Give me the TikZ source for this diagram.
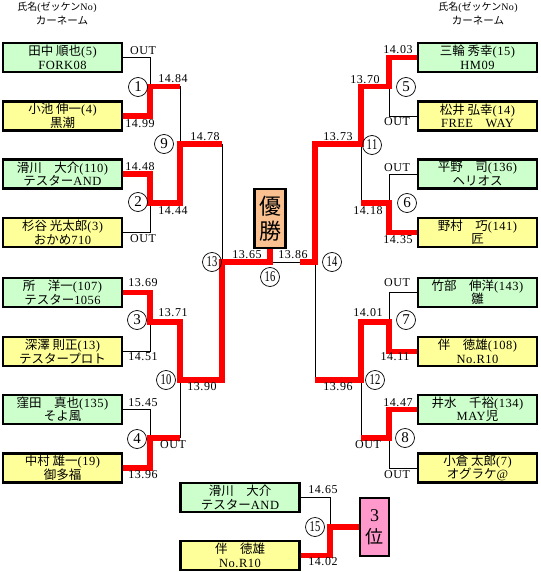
\documentclass[tikz,border=0pt]{standalone}
\usepackage{fontspec}
\usepackage{graphicx}
\setmainfont{Liberation Serif}[LetterSpace=4]
\newfontfamily\numf{Liberation Serif}[LetterSpace=5]
\newfontfamily\jpf{Noto Sans CJK JP}
\newcommand\jj[1]{{\jpf #1}}
\newcommand\tw[1]{\scalebox{0.7}[1]{#1}}
\pgfdeclarelayer{bg}
\pgfsetlayers{bg,main}
\definecolor{pgreen}{RGB}{204,255,204}
\definecolor{pyellow}{RGB}{255,255,153}
\definecolor{ppeach}{RGB}{250,192,144}
\definecolor{ppink}{RGB}{255,153,204}
\definecolor{pred}{RGB}{255,0,0}
\begin{document}
\begin{tikzpicture}[x=1pt,y=-1pt,
 pbox/.style={draw,line width=2.2pt,minimum width=119pt,minimum height=29pt,inner sep=0pt,align=center,font=\fontsize{12.5}{13.5}\selectfont},
 gbox/.style={pbox,fill=pgreen},
 ybox/.style={pbox,fill=pyellow},
 lbl/.style={inner sep=0pt,font=\numf\fontsize{12}{12}\selectfont},
 hdr/.style={inner sep=0pt,align=center,font=\fontsize{10}{12}\selectfont},
 num/.style={circle,draw,line width=0.7pt,minimum size=19pt,inner sep=0pt,font=\fontsize{15}{15}\selectfont},
 win/.style={draw=pred,line width=5.5pt},
 los/.style={draw=black,line width=0.9pt},
]
\useasboundingbox (0,0) rectangle (540,572);
% headers
\node[hdr] (hl1) at (57,7) {\jj{氏名}(\jj{ゼッケン}No)};
\node[hdr,font=\fontsize{10.5}{12}\selectfont] (hl2) at (62,21) {\jj{カーネーム}};
\node[hdr] (hr1) at (478,7) {\jj{氏名}(\jj{ゼッケン}No)};
\node[hdr,font=\fontsize{10.5}{12}\selectfont] (hr2) at (478,21) {\jj{カーネーム}};
% left boxes
\node[gbox] (L1) at (62.5,57.5) {\jj{田中 順也}(5)\\FORK08};
\node[ybox] (L2) at (62.5,116) {\jj{小池 伸一}(4)\\\jj{黒潮}};
\node[gbox] (L3) at (62.5,174) {\jj{滑川　大介}(110)\\\jj{テスター}AND};
\node[ybox] (L4) at (62.5,232.5) {\jj{杉谷 光太郎}(3)\\\jj{おかめ}710};
\node[gbox] (L5) at (62.5,292.5) {\jj{所　洋一}(107)\\\jj{テスター}1056};
\node[ybox] (L6) at (62.5,351.5) {\jj{深澤 則正}(13)\\\jj{テスタープロト}};
\node[gbox] (L7) at (62.5,409.5) {\jj{窪田　真也}(135)\\\jj{そよ風}};
\node[ybox] (L8) at (62.5,468) {\jj{中村 雄一}(19)\\\jj{御多福}};
% right boxes
\node[gbox] (R1) at (477.5,57.5) {\jj{三輪 秀幸}(15)\\HM09};
\node[ybox] (R2) at (477.5,116) {\jj{松井 弘幸}(14)\\FREE\jj{　}WAY};
\node[gbox] (R3) at (477.5,174) {\jj{平野　司}(136)\\\jj{ヘリオス}};
\node[ybox] (R4) at (477.5,232.5) {\jj{野村　巧}(141)\\\jj{匠}};
\node[gbox] (R5) at (477.5,292.5) {\jj{竹部　伸洋}(143)\\\jj{雛}};
\node[ybox] (R6) at (477.5,351.5) {\jj{伴　徳雄}(108)\\No.R10};
\node[gbox] (R7) at (477.5,409.5) {\jj{井水　千裕}(134)\\MAY\jj{児}};
\node[ybox] (R8) at (477.5,468) {\jj{小倉 太郎}(7)\\\jj{オグラケ}@};
% bottom boxes
\node[gbox] (B1) at (240,497.5) {\jj{滑川　大介}\\\jj{テスター}AND};
\node[ybox] (B2) at (240,555.5) {\jj{伴　徳雄}\\No.R10};
% result boxes
\node[draw,line width=2.2pt,fill=ppeach,minimum width=31pt,minimum height=59pt,inner sep=0pt,align=center,font=\jpf\fontsize{22}{25}\selectfont] (W) at (270,218.5) {優\\勝};
\node[draw,line width=2.2pt,fill=ppink,minimum width=29pt,minimum height=58pt,inner sep=0pt,align=center,font=\fontsize{18}{22}\selectfont] (T) at (374.5,527) {3\\\jj{位}};
% junction coordinates
\coordinate (m1) at (150,86.5);
\coordinate (m2) at (150,203);
\coordinate (m3) at (150,322);
\coordinate (m4) at (150,438);
\coordinate (m9) at (180,144);
\coordinate (m10) at (180,380);
\coordinate (m13) at (222,262);
\coordinate (m16) at (270,262);
\coordinate (m5) at (389,86.5);
\coordinate (m6) at (389,203);
\coordinate (m7) at (389,322);
\coordinate (m8) at (389,438);
\coordinate (m11) at (361,144);
\coordinate (m12) at (361,380);
\coordinate (m14) at (315,262);
\coordinate (m14s) at (300,262);
\coordinate (m15) at (330,527);
\begin{pgfonlayer}{bg}
% black (losing) lines
\draw[los] (L1.east) -| (m1);
\draw[los] (m1 -| m9) -- (m9);
\draw[los] (L4.east) -| (m2);
\draw[los] (m9 -| m13) -- (m13);
\draw[los] (L6.east) -| (m3);
\draw[los] (L7.east) -| (m4);
\draw[los] (m10) -- (m4 -| m10);
\draw[los] (R2.west) -| (m5);
\draw[los] (m11) -- (m6 -| m11);
\draw[los] (R3.west) -| (m6);
\draw[los] (m14) -- (m16);
\draw[los] (m14) -- (m12 -| m14);
\draw[los] (R5.west) -| (m7);
\draw[los] (m12) -- (m8 -| m12);
\draw[los] (R8.west) -| (m8);
\draw[los] (B1.east) -| (m15);
% red (winning) lines
\draw[win] (L2.east) -| (m1) -- (m1 -| m9);
\draw[win] (L3.east) -| (m2) -- (m2 -| m9) -- (m9) -- (m9 -| m13);
\draw[win] (L5.east) -| (m3) -- (m3 -| m10) -- (m10) -- (m10 -| m13) -- (m13) -- (m16) -- (W.south);
\draw[win] (L8.east) -| (m4) -- (m4 -| m10);
\draw[win] (R1.west) -| (m5) -- (m5 -| m11) -- (m11) -- (m11 -| m14) -- (m14) -- (m14s);
\draw[win] (R4.west) -| (m6) -- (m6 -| m11);
\draw[win] (R6.west) -| (m7) -- (m7 -| m12) -- (m12) -- (m12 -| m14);
\draw[win] (R7.west) -| (m8) -- (m8 -| m12);
\draw[win] (B2.east) -| (m15) -- (T.west);
\end{pgfonlayer}
% match numbers
\node[num] (n1) at (138,87) {1};
\node[num] (n2) at (138,202) {2};
\node[num] (n3) at (137,320) {3};
\node[num] (n4) at (137,439) {4};
\node[num] (n5) at (406,87) {5};
\node[num] (n6) at (407,203) {6};
\node[num] (n7) at (406,320) {7};
\node[num] (n8) at (405,438) {8};
\node[num] (n9) at (164,144) {9};
\node[num] (n10) at (166,380) {\tw{10}};
\node[num] (n11) at (372,145) {\tw{11}};
\node[num] (n12) at (375,380) {\tw{12}};
\node[num] (n13) at (212,262) {\tw{13}};
\node[num] (n14) at (332,262) {\tw{14}};
\node[num] (n15) at (315,527) {\tw{15}};
\node[num] (n16) at (270,277) {\tw{16}};
% time labels left
\node[lbl] (t1) at (143,51) {OUT};
\node[lbl] (t2) at (140,124) {14.99};
\node[lbl] (t3) at (173,79) {14.84};
\node[lbl] (t4) at (140,167) {14.48};
\node[lbl] (t5) at (173,211) {14.44};
\node[lbl] (t6) at (143,239) {OUT};
\node[lbl] (t7) at (205,137) {14.78};
\node[lbl] (t8) at (143,283) {13.69};
\node[lbl] (t9) at (173,313) {13.71};
\node[lbl] (t10) at (143,357) {14.51};
\node[lbl] (t11) at (202,387) {13.90};
\node[lbl] (t12) at (143,403) {15.45};
\node[lbl] (t13) at (173,445) {OUT};
\node[lbl] (t14) at (143,475) {13.96};
% center
\node[lbl] (t15) at (247,255) {13.65};
\node[lbl] (t16) at (293,255) {13.86};
% time labels right
\node[lbl] (u1) at (398,50) {14.03};
\node[lbl] (u2) at (365,80) {13.70};
\node[lbl] (u3) at (397,122) {OUT};
\node[lbl] (u4) at (338,137) {13.73};
\node[lbl] (u5) at (397,168) {OUT};
\node[lbl] (u6) at (368,211) {14.18};
\node[lbl] (u7) at (398,240) {14.35};
\node[lbl] (u8) at (397,283) {OUT};
\node[lbl] (u9) at (368,313) {14.01};
\node[lbl] (u10) at (395,357) {14.11};
\node[lbl] (u11) at (338,387) {13.96};
\node[lbl] (u12) at (398,403) {14.47};
\node[lbl] (u13) at (368,445) {OUT};
\node[lbl] (u14) at (397,475) {OUT};
% bottom labels
\node[lbl] (v1) at (323,490) {14.65};
\node[lbl] (v2) at (323,562) {14.02};
\end{tikzpicture}
\end{document}
